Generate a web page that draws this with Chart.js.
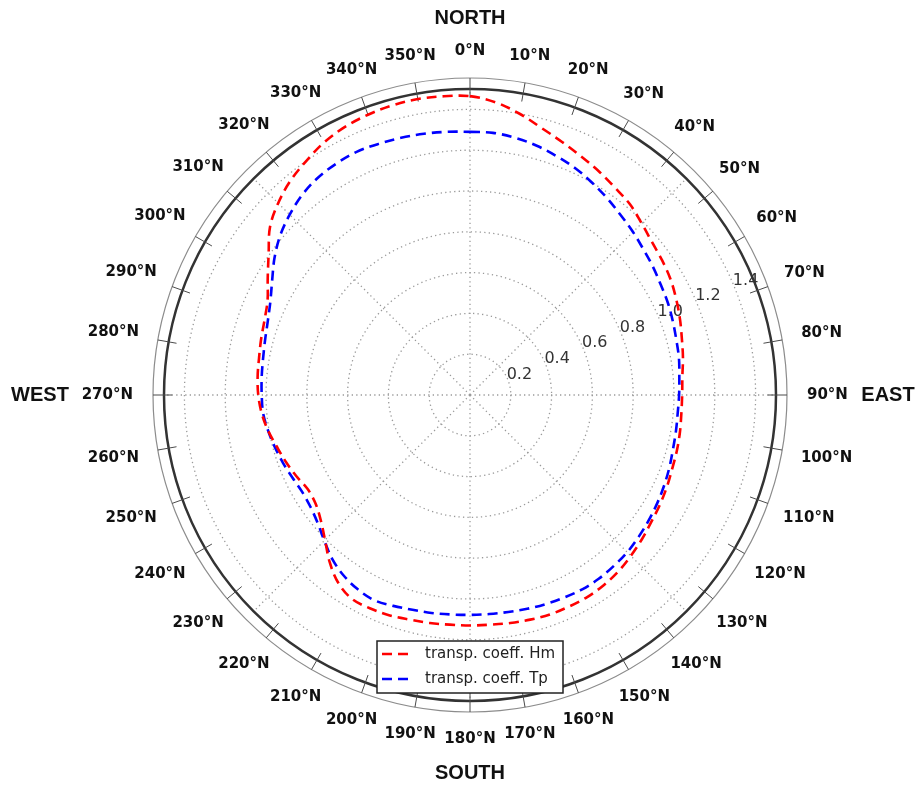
<!DOCTYPE html>
<html>
<head>
<meta charset="utf-8">
<script src="https://cdn.jsdelivr.net/npm/chart.js@4.4.0/dist/chart.umd.min.js"></script>
<style>
  html, body { margin: 0; padding: 0; background: #ffffff; }
  #wrap { width: 921px; height: 789px; position: relative; }
</style>
</head>
<body>
<div id="wrap"><canvas id="polar" width="921" height="789"></canvas></div>
<script>
// Wave direction (degrees clockwise from north), 5-degree steps
const bearings = [
  0, 5, 10, 15, 20, 25, 30, 35, 40, 45, 50, 55,
  60, 65, 70, 75, 80, 85, 90, 95, 100, 105, 110, 115,
  120, 125, 130, 135, 140, 145, 150, 155, 160, 165, 170, 175,
  180, 185, 190, 195, 200, 205, 210, 215, 220, 225, 230, 235,
  240, 245, 250, 255, 260, 265, 270, 275, 280, 285, 290, 295,
  300, 305, 310, 315, 320, 325, 330, 335, 340, 345, 350, 355
];

// Transposition coefficient for significant wave height (Hm)
const hmCoeff = [
  1.465, 1.44, 1.40, 1.355, 1.32, 1.29, 1.265, 1.24, 1.22, 1.19, 1.165, 1.15,
  1.135, 1.115, 1.095, 1.075, 1.06, 1.045, 1.04, 1.04, 1.045, 1.05, 1.055, 1.065,
  1.075, 1.085, 1.10, 1.115, 1.13, 1.14, 1.145, 1.145, 1.145, 1.14, 1.135, 1.13,
  1.13, 1.13, 1.135, 1.14, 1.15, 1.155, 1.155, 1.125, 1.07, 1.005, 0.955, 0.925,
  0.92, 0.94, 0.96, 0.98, 1.005, 1.025, 1.038, 1.045, 1.05, 1.06, 1.072, 1.095,
  1.145, 1.205, 1.28, 1.33, 1.37, 1.40, 1.43, 1.45, 1.462, 1.47, 1.473, 1.47
];

// Transposition coefficient for peak period (Tp)
const tpCoeff = [
  1.29, 1.29, 1.28, 1.265, 1.245, 1.225, 1.20, 1.175, 1.15, 1.13, 1.11, 1.095,
  1.08, 1.07, 1.058, 1.047, 1.04, 1.03, 1.025, 1.022, 1.025, 1.03, 1.04, 1.05,
  1.06, 1.07, 1.08, 1.09, 1.095, 1.10, 1.10, 1.095, 1.09, 1.085, 1.08, 1.078,
  1.078, 1.08, 1.085, 1.09, 1.10, 1.11, 1.10, 1.08, 1.05, 1.01, 0.975, 0.955,
  0.95, 0.96, 0.975, 0.99, 1.005, 1.018, 1.021, 1.025, 1.03, 1.04, 1.055, 1.08,
  1.12, 1.17, 1.215, 1.25, 1.28, 1.30, 1.31, 1.315, 1.31, 1.305, 1.30, 1.295
];

// Radial rings (the last one is the plot edge)
const ringValues = [0, 0.2, 0.4, 0.6, 0.8, 1.0, 1.2, 1.4, 1.5];
const ringLabels = ['0.2', '0.4', '0.6', '0.8', '1.0', '1.2', '1.4'];

// Bearing labels every 10 degrees
const bearingLabels = [
  '0°N', '10°N', '20°N', '30°N', '40°N', '50°N', '60°N', '70°N', '80°N',
  '90°N', '100°N', '110°N', '120°N', '130°N', '140°N', '150°N', '160°N', '170°N',
  '180°N', '190°N', '200°N', '210°N', '220°N', '230°N', '240°N', '250°N', '260°N',
  '270°N', '280°N', '290°N', '300°N', '310°N', '320°N', '330°N', '340°N', '350°N'
];

const compassNames = ['NORTH', 'EAST', 'SOUTH', 'WEST'];
const seriesNames = ['transp. coeff. Hm', 'transp. coeff. Tp'];

const RMAX = 1.5;
const deg = Math.PI / 180;

// Compass bezel, ring labels, bearing labels, cardinal names and the legend box
const compassFrame = {
  id: 'compassFrame',
  beforeDatasetsDraw(chart) {
    const s = chart.scales.r;
    const ctx = chart.ctx;
    const cx = s.xCenter, cy = s.yCenter;
    const R = s.getDistanceFromCenterForValue(RMAX);
    ctx.save();
    // thin outer bezel
    ctx.strokeStyle = '#8c8c8c';
    ctx.lineWidth = 1.2;
    ctx.beginPath();
    ctx.arc(cx, cy, R + 11, 0, Math.PI * 2);
    ctx.stroke();
    // bezel ticks every 10 degrees
    ctx.strokeStyle = '#4a4a4a';
    ctx.lineWidth = 1;
    for (let i = 0; i < bearings.length; i += 2) {
      const a = s.getPointPosition(i, R - 8);
      const b = s.getPointPosition(i, R + 11);
      ctx.beginPath();
      ctx.moveTo(a.x, a.y);
      ctx.lineTo(b.x, b.y);
      ctx.stroke();
    }
    // ring value labels, 22.5 degrees above east
    ctx.fillStyle = '#333333';
    ctx.font = '16px "DejaVu Sans"';
    ctx.textAlign = 'left';
    ctx.textBaseline = 'middle';
    const la = 67.5 * deg;
    ringLabels.forEach((t, k) => {
      const d = s.getDistanceFromCenterForValue(ringValues[k + 1]);
      const x = cx + d * Math.sin(la);
      const y = cy - d * Math.cos(la);
      ctx.fillText(t, x - 1, y - 5);
    });
    ctx.restore();
  },
  afterDatasetsDraw(chart) {
    const s = chart.scales.r;
    const ctx = chart.ctx;
    const R = s.getDistanceFromCenterForValue(RMAX);
    ctx.save();
    ctx.fillStyle = '#111111';
    ctx.textAlign = 'center';
    ctx.textBaseline = 'middle';
    ctx.font = 'bold 15px "DejaVu Sans"';
    bearingLabels.forEach((t, k) => {
      const th = k * 10 * deg;
      const w = ctx.measureText(t).width;
      const d = R + 31 + (w / 2) * Math.sin(th) ** 2 + 7 * Math.cos(th) ** 2;
      const p = s.getPointPosition(k * 2, d);
      ctx.fillText(t, p.x, p.y);
    });
    ctx.font = 'bold 20px "Liberation Sans"';
    const extra = [71, 112, 72, 124];
    compassNames.forEach((t, k) => {
      const p = s.getPointPosition(k * 18, R + extra[k]);
      ctx.fillText(t, p.x, p.y);
    });
    ctx.restore();
  },
  afterDraw(chart) {
    const s = chart.scales.r;
    const ctx = chart.ctx;
    const cx = s.xCenter, cy = s.yCenter;
    const left = cx - 93, top = cy + 246, w = 186, h = 52;
    ctx.save();
    ctx.fillStyle = '#ffffff';
    ctx.fillRect(left, top, w, h);
    ctx.strokeStyle = '#222222';
    ctx.lineWidth = 1.5;
    ctx.strokeRect(left, top, w, h);
    ctx.font = '15px "DejaVu Sans"';
    ctx.textAlign = 'left';
    ctx.textBaseline = 'middle';
    chart.data.datasets.forEach((ds, i) => {
      const y = top + 13 + i * 25;
      ctx.strokeStyle = ds.borderColor;
      ctx.lineWidth = ds.borderWidth;
      ctx.setLineDash(ds.borderDash);
      ctx.beginPath();
      ctx.moveTo(left + 5, y);
      ctx.lineTo(left + 32, y);
      ctx.stroke();
      ctx.setLineDash([]);
      ctx.fillStyle = '#222222';
      ctx.fillText(ds.label, left + 48, y);
    });
    ctx.restore();
  }
};

new Chart(document.getElementById('polar'), {
  type: 'radar',
  data: {
    labels: bearings,
    datasets: [
      {
        label: seriesNames[0],
        data: hmCoeff,
        borderColor: '#ff0000',
        borderWidth: 2.6,
        borderDash: [10, 6],
        pointRadius: 0,
        fill: false,
        tension: 0.35
      },
      {
        label: seriesNames[1],
        data: tpCoeff,
        borderColor: '#0000ff',
        borderWidth: 2.6,
        borderDash: [10, 6],
        pointRadius: 0,
        fill: false,
        tension: 0.35
      }
    ]
  },
  options: {
    responsive: false,
    animation: false,
    devicePixelRatio: 1,
    layout: { padding: { left: 164, right: 145, top: 89, bottom: 88 } },
    plugins: { legend: { display: false }, tooltip: { enabled: false } },
    scales: {
      r: {
        min: 0,
        max: RMAX,
        startAngle: 0,
        afterBuildTicks: (scale) => { scale.ticks = ringValues.map(v => ({ value: v })); },
        ticks: { display: false },
        pointLabels: { display: false },
        grid: {
          circular: true,
          color: (c) => (c.tick && c.tick.value >= RMAX ? '#333333' : '#9a9a9a'),
          lineWidth: (c) => (c.tick && c.tick.value >= RMAX ? 2.5 : 1.3)
        },
        border: {
          dash: (c) => (c.tick && c.tick.value >= RMAX ? [] : [1.3, 3.2])
        },
        angleLines: {
          color: '#9a9a9a',
          lineWidth: (c) => (c.index % 9 === 0 ? 1.3 : 0),
          borderDash: [1.3, 3.2]
        }
      }
    }
  },
  plugins: [compassFrame]
});
</script>
</body>
</html>
